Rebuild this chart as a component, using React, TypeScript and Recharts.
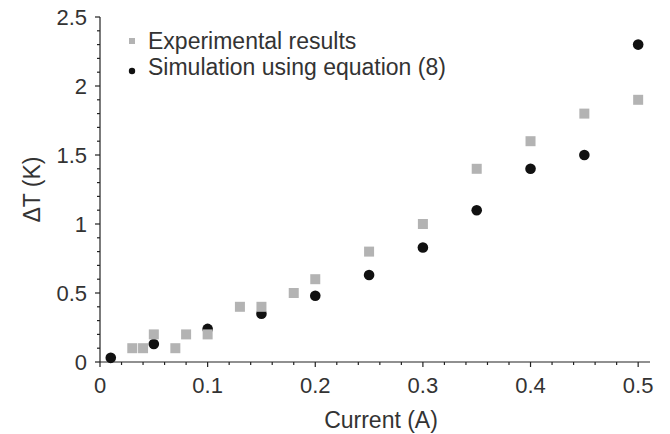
import { Legend, Scatter, ScatterChart, XAxis, YAxis } from "recharts";

// experimental results (grey squares)
const expCurrent = [0.03, 0.04, 0.05, 0.07, 0.08, 0.1, 0.13, 0.15, 0.18, 0.2, 0.25, 0.3, 0.35, 0.4, 0.45, 0.5];
const expDeltaT = [0.1, 0.1, 0.2, 0.1, 0.2, 0.2, 0.4, 0.4, 0.5, 0.6, 0.8, 1.0, 1.4, 1.6, 1.8, 1.9];

// simulation using equation (8) (black dots)
const simCurrent = [0.01, 0.05, 0.1, 0.15, 0.2, 0.25, 0.3, 0.35, 0.4, 0.45, 0.5];
const simDeltaT = [0.03, 0.13, 0.24, 0.35, 0.48, 0.63, 0.83, 1.1, 1.4, 1.5, 2.3];

const xTicks = [
  0, 0.02, 0.04, 0.06, 0.08, 0.1, 0.12, 0.14, 0.16, 0.18, 0.2, 0.22, 0.24,
  0.26, 0.28, 0.3, 0.32, 0.34, 0.36, 0.38, 0.4, 0.42, 0.44, 0.46, 0.48, 0.5,
];
const yTicks = [
  0, 0.1, 0.2, 0.3, 0.4, 0.5, 0.6, 0.7, 0.8, 0.9, 1, 1.1, 1.2, 1.3, 1.4, 1.5,
  1.6, 1.7, 1.8, 1.9, 2, 2.1, 2.2, 2.3, 2.4, 2.5,
];
const xMajor = [0, 0.1, 0.2, 0.3, 0.4, 0.5];
const yMajor = [0, 0.5, 1, 1.5, 2, 2.5];

const expData = expCurrent.map((x, i) => ({ x, y: expDeltaT[i] }));
const simData = simCurrent.map((x, i) => ({ x, y: simDeltaT[i] }));

const FONT = '"Liberation Sans", Arial, sans-serif';
const TEXT = "#333333";
const AXIS = "#222222";
const GREY = "#b3b3b3";

const isMajor = (v: number, list: number[]) =>
  list.some((m) => Math.abs(m - v) < 1e-6);

function XTick({ x, y, payload }: any) {
  const major = isMajor(payload.value, xMajor);
  return (
    <g>
      <line x1={x} x2={x} y1={y} y2={y + (major ? 5 : 3)} stroke={AXIS} strokeWidth={1.2} />
      {major && (
        <text x={x} y={y + 31} textAnchor="middle" fontSize={22} fill={TEXT} fontFamily={FONT}>
          {String(payload.value)}
        </text>
      )}
    </g>
  );
}

function YTick({ x, y, payload }: any) {
  const major = isMajor(payload.value, yMajor);
  return (
    <g>
      <line x1={x - (major ? 5 : 3)} x2={x} y1={y} y2={y} stroke={AXIS} strokeWidth={1.2} />
      {major && (
        <text x={x - 13} y={y + 8} textAnchor="end" fontSize={22} fill={TEXT} fontFamily={FONT}>
          {String(payload.value)}
        </text>
      )}
    </g>
  );
}

const Square = ({ cx, cy }: any) => (
  <rect x={cx - 5} y={cy - 5} width={10} height={10} fill={GREY} />
);
const Dot = ({ cx, cy }: any) => <circle cx={cx} cy={cy} r={5.3} fill="#111111" />;

function LegendBox() {
  return (
    <svg width={320} height={60} style={{ display: "block" }}>
      <rect x={4} y={13} width={6} height={6} fill={GREY} />
      <text x={23} y={24} fontSize={23} fill={TEXT} fontFamily={FONT}>
        Experimental results
      </text>
      <circle cx={7} cy={46} r={3.2} fill="#111111" />
      <text x={23} y={50} fontSize={23} fill={TEXT} fontFamily={FONT}>
        Simulation using equation (8)
      </text>
    </svg>
  );
}

export default function App() {
  return (
    <div style={{ position: "absolute", left: 0, top: 0, background: "#fff" }}>
      <ScatterChart width={670} height={434} margin={{ top: 17, right: 20, bottom: 0, left: 40 }}>
        <XAxis
          type="number"
          dataKey="x"
          domain={[0, 0.511]}
          allowDataOverflow
          ticks={xTicks}
          interval={0}
          height={72}
          tickSize={0}
          tickMargin={0}
          tickLine={false}
          axisLine={{ stroke: AXIS, strokeWidth: 1.2 }}
          tick={<XTick />}
          label={{
            content: ({ viewBox }: any) => (
              <text
                x={viewBox.x + 281}
                y={viewBox.y + 66}
                textAnchor="middle"
                fontSize={23}
                fill={TEXT}
                fontFamily={FONT}
              >
                Current (A)
              </text>
            ),
          }}
        />
        <YAxis
          type="number"
          dataKey="y"
          domain={[0, 2.5]}
          ticks={yTicks}
          interval={0}
          width={60}
          tickSize={0}
          tickMargin={0}
          tickLine={false}
          axisLine={{ stroke: AXIS, strokeWidth: 1.2 }}
          tick={<YTick />}
          label={{
            content: ({ viewBox }: any) => {
              const cx = viewBox.x;
              const cy = viewBox.y + viewBox.height / 2;
              return (
                <text
                  x={cx}
                  y={cy}
                  transform={`rotate(-90, ${cx}, ${cy})`}
                  textAnchor="middle"
                  fontSize={23}
                  fill={TEXT}
                  fontFamily={FONT}
                >
                  ΔT (K)
                </text>
              );
            },
          }}
        />
        <Legend
          layout="vertical"
          align="center"
          verticalAlign="middle"
          wrapperStyle={{ left: 125, top: 25, width: 320 }}
          content={() => <LegendBox />}
        />
        <Scatter name="Simulation using equation (8)" data={simData} shape={<Dot />} isAnimationActive={false} />
        <Scatter name="Experimental results" data={expData} shape={<Square />} isAnimationActive={false} />
      </ScatterChart>
    </div>
  );
}
